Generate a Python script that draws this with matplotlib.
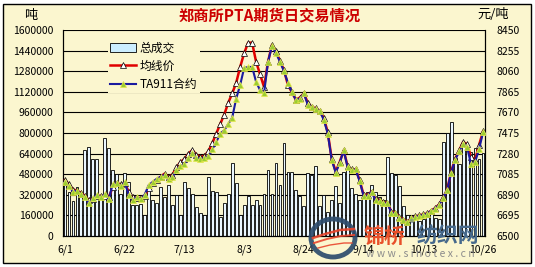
import matplotlib
matplotlib.use("Agg")
import matplotlib.pyplot as plt
import numpy as np
from matplotlib.patches import Patch, Ellipse, Rectangle
from matplotlib.lines import Line2D

plt.rcParams['font.family'] = ['Noto Sans CJK SC', 'DejaVu Sans']

BG = '#FBF6CF'

# ---- data (daily, 6/1 .. end of Oct) ----
tick_pos = [0, 15, 30, 45, 60, 75, 90, 105]
tick_labels = ['6/1', '6/22', '7/13', '8/3', '8/24', '9/14', '10/13', '10/26']

volume = [
    396000, 340000, 270000, 380000, 300000, 665000, 690000, 598000, 598000, 300000,
    760000, 680000, 510000, 480000, 330000, 490000, 420000, 241000, 240000, 250000,
    165000, 380000, 280000, 260000, 380000, 300000, 396000, 241000, 318000, 160000,
    419000, 373000, 326000, 225000, 180000, 163000, 458000, 349000, 340000, 150000,
    260000, 326000, 567000, 412000, 160000, 241000, 311000, 241000, 280000, 241000,
    326000, 510000, 330000, 570000, 400000, 722000, 500000, 500000, 357000, 311000,
    233000, 489000, 470000, 543000, 230000, 318000, 186000, 280000, 385000, 260000,
    500000, 520000, 370000, 330000, 280000, 303000, 342000, 400000, 340000, 300000,
    280000, 610000, 490000, 470000, 390000, 235000, 165000, 140000, 150000, 120000,
    130000, 150000, 200000, 140000, 130000, 730000, 800000, 885000, 606000, 560000,
    722000, 668000, 650000, 683000, 600000, 644000,
]

avg_price = [
    7030, 6990, 6940, 6930, 6910, 6880, 6840, 6850, 6880, 6880,
    6880, 6870, 6960, 7000, 6990, 7000, 6920, 6870, 6860, 6860,
    6880, 6950, 7000, 7030, 7060, 7090, 7060, 7080, 7150, 7200,
    7230, 7280, 7314, 7270, 7250, 7260, 7300, 7380, 7470, 7560,
    7650, 7760, 7850, 7950, 8100, 8230, 8330, 8330, 8150, 8030,
    7910, 8150, 8310, 8250, 8160, 8070, 7930, 7860, 7790, 7810,
    7850, 7760, 7720, 7710, 7680, 7620, 7480, 7230, 7110, 7200,
    7310, 7160, 7130, 7130, 7030, 6890, 6890, 6920, 6850, 6840,
    6820, 6810, 6730, 6720, 6680, 6655, 6635, 6670, 6685, 6695,
    6705, 6715, 6740, 6765, 6800, 6865, 6940, 7110, 7230, 7310,
    7390, 7370, 7250, 7220, 7360, 7490,
]

ta911 = [
    7011, 6975, 6920, 6930, 6900, 6870, 6812, 6860, 6890, 6870,
    6895, 6850, 6990, 7000, 6970, 7011, 6890, 6840, 6870, 6850,
    6890, 6980, 7011, 7040, 7060, 7080, 7040, 7060, 7125, 7160,
    7180, 7240, 7290, 7240, 7230, 7238, 7260, 7320, 7390, 7470,
    7500, 7560, 7620, 7800, 7930, 8090, 8100, 8100, 7960, 7880,
    7850, 8150, 8300, 8230, 8150, 8060, 7950, 7860, 7790, 7800,
    7850, 7740, 7720, 7700, 7680, 7600, 7470, 7220, 7100, 7190,
    7310, 7150, 7125, 7130, 7020, 6880, 6880, 6920, 6840, 6830,
    6810, 6810, 6720, 6718, 6670, 6650, 6630, 6670, 6680, 6690,
    6700, 6710, 6740, 6760, 6795, 6860, 6935, 7100, 7220, 7300,
    7370, 7340, 7180, 7200, 7320, 7480,
]

W, H = 535, 267
fig = plt.figure(figsize=(W / 100, H / 100), dpi=100)
fig.patch.set_facecolor('white')
fig.patches.append(Rectangle((3 / W, 4 / H), 528 / W, 259 / H, transform=fig.transFigure,
                             facecolor=BG, edgecolor='black', lw=1.0, zorder=-5))

ax = fig.add_axes([63 / W, 31 / H, 422 / W, 206 / H])
ax.set_facecolor(BG)
x = np.arange(len(volume))
ax.bar(x, volume, width=0.72, color='#EAF7FF', edgecolor='black', linewidth=0.6, zorder=2)
ax.set_xlim(-0.5, len(volume) - 0.5)
ax.set_ylim(0, 1600000)
ax.set_yticks(np.arange(0, 1600001, 160000))
ax.set_yticklabels([str(v) for v in range(0, 1600001, 160000)])
ax.yaxis.grid(True, color='black', lw=0.8)
ax.set_axisbelow(True)
ax.set_xticks(tick_pos)
ax.set_xticklabels(tick_labels)
ax.tick_params(axis='y', length=0, labelsize=7.5, pad=7)
ax.tick_params(axis='x', length=0, labelsize=7.5, pad=6)
ax.spines['top'].set_visible(False)
for s in ('left', 'bottom', 'right'):
    ax.spines[s].set_linewidth(0.8)

ax2 = ax.twinx()
ax2.set_ylim(6500, 8450)
ax2.set_yticks(np.arange(6500, 8451, 195))
ax2.tick_params(axis='y', length=0, labelsize=7.5, pad=8)
ax2.spines['top'].set_visible(False)
ax2.spines['right'].set_linewidth(0.8)
ax2.plot(x, avg_price, color='#E00000', lw=1.8, marker='^', ms=4,
         mfc='white', mec='black', mew=0.5, zorder=3)
ax2.plot(x, ta911, color='#1A1AA0', lw=1.5, marker='^', ms=4,
         mfc='#9ACD32', mec='#E8E84A', mew=0.5, zorder=4)

handles = [
    Patch(facecolor='#CCEEFF', edgecolor='black', lw=0.6),
    Line2D([], [], color='#E00000', lw=1.8, marker='^', ms=4, mfc='white', mec='black', mew=0.5),
    Line2D([], [], color='#1A1AA0', lw=1.5, marker='^', ms=4, mfc='#9ACD32', mec='#E8E84A', mew=0.5),
]
leg = ax2.legend(handles, ['总成交', '均线价', 'TA911合约'], loc='upper left',
                 bbox_to_anchor=(39 / 422, 203 / 206), fontsize=8.5, frameon=True,
                 facecolor=BG, edgecolor='none', framealpha=1, fancybox=False,
                 handlelength=2.2, handleheight=0.8, labelspacing=0.45,
                 borderpad=0.2, handletextpad=0.3)

fig.text(270 / W, 1 - 16 / H, '郑商所PTA期货日交易情况', ha='center', va='center',
         color='#CC0000', fontsize=11, fontweight='bold')
fig.text(31 / W, 1 - 15 / H, '吨', ha='center', va='center', fontsize=9.5)
fig.text(493 / W, 1 - 15 / H, '元/吨', ha='center', va='center', fontsize=9.5)

# watermark overlay (pixel coords, origin top-left)
wm = fig.add_axes([0, 0, 1, 1])
wm.set_xlim(0, W)
wm.set_ylim(H, 0)
wm.axis('off')
wm.add_patch(Ellipse((333, 238), 44, 38, fill=False, ec='#2D4C6C', lw=3.5, alpha=0.92))
wm.plot([313, 325, 340, 354], [238, 234, 230, 229], color='#E8452C', lw=1.8, alpha=0.9)
wm.plot([314, 327, 341, 354], [243, 239, 236, 235], color='#E8452C', lw=1.4, alpha=0.9)
wm.plot([318, 330, 344, 352], [248, 245, 243, 243], color='#E8452C', lw=1.0, alpha=0.9)
wm.text(364, 236, '锦桥', color='#E8502A', fontsize=15, fontweight='heavy', va='center', ha='left')
wm.text(410, 224, '®', color='#7A8A9A', fontsize=6.5, va='center', ha='left')
wm.text(417, 236, '纺织网', color='#46698C', fontsize=15, fontweight='heavy', va='center', ha='left')
wm.text(366, 254, 'w w w . s i n o t e x . c n', color='#8C8C8C', fontsize=7.5,
        va='center', ha='left')

fig.savefig('out.png', dpi=100, facecolor=fig.get_facecolor())
